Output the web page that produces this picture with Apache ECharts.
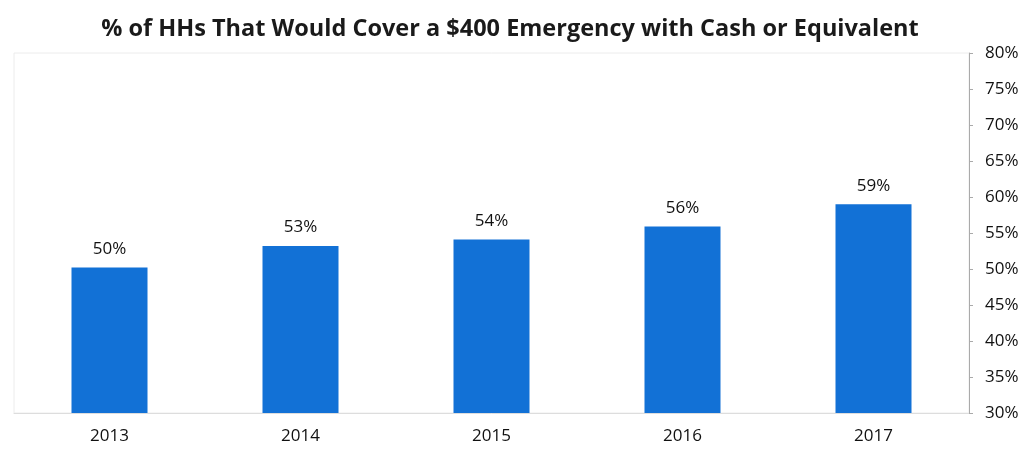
<!DOCTYPE html>
<html>
<head>
<meta charset="utf-8">
<script src="https://cdn.jsdelivr.net/npm/echarts@6/dist/echarts.min.js"></script>
<style>
  html, body { margin: 0; padding: 0; background: #fff; }
  #chart { width: 1031px; height: 450px; }
</style>
</head>
<body>
<div id="chart"></div>
<script>
// data
const years = ["2013", "2014", "2015", "2016", "2017"];
const shares = [50.2, 53.2, 54.1, 55.9, 59.0];
const shareLabels = ["50%", "53%", "54%", "56%", "59%"];

const chart = echarts.init(document.getElementById("chart"));
chart.setOption({
    animation: false,
    title: {
        text: "% of HHs That Would Cover a $400 Emergency with Cash or Equivalent",
        left: 505,
        textAlign: "center",
        top: 12,
        textStyle: { fontFamily: "Open Sans", fontWeight: "bold", fontSize: 23.5, color: "#1a1a1a" }
    },
    grid: {
        left: 14, right: 62, top: 53, bottom: 37,
        show: true, borderColor: "#ececec", borderWidth: 1
    },
    xAxis: {
        type: "category",
        data: years,
        axisLine: { lineStyle: { color: "#ddd" } },
        axisTick: { show: false },
        axisLabel: { fontFamily: "Open Sans", fontSize: 17, color: "#111", margin: 15 }
    },
    yAxis: {
        type: "value",
        position: "right",
        min: 30,
        max: 80,
        interval: 5,
        axisLine: { show: true, lineStyle: { color: "#aaa" } },
        axisTick: { show: true, length: 4, lineStyle: { color: "#aaa" } },
        splitLine: { show: false },
        axisLabel: {
            fontFamily: "Open Sans", fontSize: 17, color: "#111", margin: 16,
            formatter: v => v + "%"
        }
    },
    series: [{
        type: "bar",
        data: shares,
        barWidth: 76,
        itemStyle: { color: "#1271d6" },
        label: {
            show: true,
            position: "top",
            distance: 10,
            fontFamily: "Open Sans",
            fontSize: 17,
            color: "#111",
            formatter: p => shareLabels[p.dataIndex]
        }
    }]
});
</script>
</body>
</html>
